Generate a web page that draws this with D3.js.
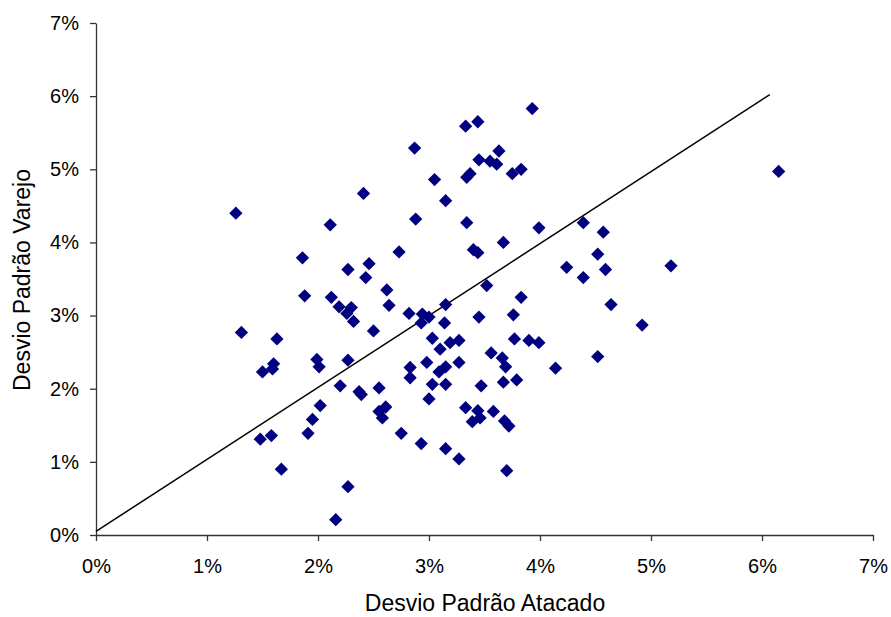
<html>
<head>
<style>
  body { margin: 0; background: #fff; }
  svg { font-family: "Liberation Sans", Arial, sans-serif; }
  .axis path, .axis line { stroke: #333; stroke-width: 1.3; }
  .axis text { fill: #000; font-size: 20px; }
  .title { font-size: 23px; fill: #000; }
</style>
</head>
<body>
<svg width="891" height="617"></svg>
<script src="https://d3js.org/d3.v7.min.js"></script>
<script>
// Desvio padrão (em %) de cada item
var atacado = [3.93,3.33,3.44,3.63,3.45,3.55,3.61,3.75,3.83,3.34,3.37,3.05,2.87,3.15,2.88,3.34,3.99,4.39,4.57,3.67,
  3.40,3.44,4.52,4.24,4.59,4.39,5.18,3.52,3.83,4.64,3.15,4.92,1.26,2.41,2.11,2.73,1.86,2.27,2.46,2.43,
  2.62,1.88,2.12,2.64,2.19,2.30,2.26,2.32,2.82,2.94,3.00,2.93,3.14,3.45,3.76,1.31,1.63,2.50,3.03,3.10,
  3.19,3.27,3.77,3.90,3.99,4.52,4.14,3.56,3.66,3.69,1.60,1.50,1.59,1.99,2.01,2.27,2.83,2.83,2.98,3.09,
  3.15,3.27,3.03,3.15,3.47,3.67,3.79,2.20,2.37,2.39,2.55,2.02,1.95,1.91,2.55,2.61,2.58,2.75,2.93,3.00,
  3.15,1.48,1.58,1.67,2.27,2.16,3.33,3.44,3.39,3.46,3.58,3.68,3.72,3.27,3.70,6.15];
var varejo = [5.83,5.59,5.65,5.25,5.13,5.11,5.07,4.94,5.00,4.89,4.94,4.86,5.29,4.57,4.32,4.27,4.20,4.27,4.14,4.00,
  3.90,3.86,3.84,3.66,3.63,3.52,3.68,3.41,3.25,3.15,3.15,2.87,4.40,4.67,4.24,3.87,3.79,3.63,3.71,3.52,
  3.35,3.27,3.25,3.14,3.12,3.11,3.03,2.92,3.03,3.02,2.98,2.90,2.90,2.98,3.01,2.77,2.68,2.79,2.69,2.54,
  2.63,2.66,2.68,2.66,2.63,2.44,2.28,2.49,2.42,2.30,2.34,2.23,2.27,2.40,2.30,2.39,2.29,2.15,2.36,2.23,
  2.30,2.36,2.06,2.06,2.04,2.09,2.12,2.04,1.96,1.92,2.01,1.77,1.58,1.39,1.69,1.75,1.60,1.39,1.25,1.86,
  1.18,1.31,1.36,0.90,0.66,0.21,1.74,1.70,1.55,1.60,1.69,1.56,1.49,1.04,0.88,4.97];
// linha de referência
var linhaX = [0, 6.07];
var linhaY = [0.05, 6.02];
var ticks = [0,1,2,3,4,5,6,7];

var margin = {left: 96, top: 23};
var width = 777, height = 512;

var x = d3.scaleLinear().domain([0,7]).range([0,width]);
var y = d3.scaleLinear().domain([0,7]).range([height,0]);

var svg = d3.select('svg').append('g')
  .attr('transform', 'translate(' + margin.left + ',' + margin.top + ')');

var xAxis = d3.axisBottom(x).tickValues(ticks).tickSize(6).tickSizeOuter(0)
  .tickFormat(function(d) { return d + '%'; });
var yAxis = d3.axisLeft(y).tickValues(ticks).tickSize(6).tickSizeOuter(0)
  .tickFormat(function(d) { return d + '%'; });

var gx = svg.append('g').attr('class', 'axis')
  .attr('transform', 'translate(0,' + height + ')').call(xAxis);
gx.selectAll('text').attr('y', 38).attr('dy', 0);
var gy = svg.append('g').attr('class', 'axis').call(yAxis);
gy.selectAll('text').attr('x', -17);

var pts = atacado.map(function(v, i) { return [v, varejo[i]]; });

svg.append('path')
  .attr('d', d3.line()(linhaX.map(function(v, i) { return [x(v), y(linhaY[i])]; })))
  .attr('stroke', '#000').attr('stroke-width', 1.5).attr('fill', 'none');

svg.append('g').selectAll('path')
  .data(pts)
  .enter()
  .append('path')
  .attr('d', d3.symbol(d3.symbolSquare, 88))
  .attr('transform', function(d) { return 'translate(' + x(d[0]) + ',' + y(d[1]) + ') rotate(45)'; })
  .attr('fill', '#000080');

d3.select('svg').append('text').attr('class', 'title')
  .attr('x', 485).attr('y', 611).attr('text-anchor', 'middle')
  .text('Desvio Padrão Atacado');

d3.select('svg').append('text').attr('class', 'title')
  .attr('transform', 'translate(30,280) rotate(-90)').attr('text-anchor', 'middle')
  .text('Desvio Padrão Varejo');
</script>
</body>
</html>
